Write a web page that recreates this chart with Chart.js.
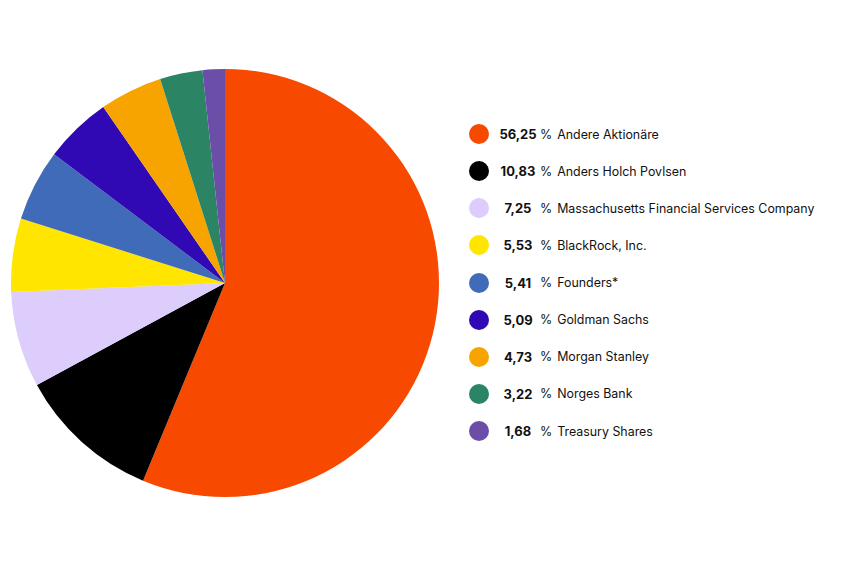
<!DOCTYPE html>
<html>
<head>
<meta charset="utf-8">
<script src="https://cdn.jsdelivr.net/npm/chart.js@4"></script>
<style>
  html, body { margin: 0; padding: 0; background: #fff; }
  body { width: 845px; height: 563px; position: relative; overflow: hidden; font-family: Inter, "Noto Sans", sans-serif; }
  #pieBox { position: absolute; left: 11px; top: 69px; width: 428px; height: 428px; }
  .legend { position: absolute; left: 469px; top: 115.5px; }
  .info-item { display: flex; align-items: center; height: 37.125px; font-size: 12.4px; color: #111; }
  .color-dot { width: 20px; height: 20px; border-radius: 50%; margin-right: 8px; flex: none; }
  .pct { width: 42px; text-align: center; font-weight: 700; font-size: 13px; }
  .sign { margin-left: 1px; margin-right: 5px; }
</style>
</head>
<body>
<div id="pieBox"><canvas id="shareChart"></canvas></div>
<div class="legend" id="legend"></div>
<script>
const labels = ['Andere Aktionäre', 'Anders Holch Povlsen', 'Massachusetts Financial Services Company', 'BlackRock, Inc.', 'Founders*', 'Goldman Sachs', 'Morgan Stanley', 'Norges Bank', 'Treasury Shares'];
const shares = [56.25, 10.83, 7.25, 5.53, 5.41, 5.09, 4.73, 3.22, 1.68];
const colors = ['#f74a00', '#000000', '#dccdfc', '#ffe500', '#3f6bb8', '#3008b4', '#f8a400', '#2b8464', '#6b4ea8'];

const ctx = document.getElementById('shareChart').getContext('2d');
new Chart(ctx, {
  type: 'pie',
  data: {
    labels: labels,
    datasets: [{
      data: shares,
      backgroundColor: colors,
      borderWidth: 0
    }]
  },
  options: {
    responsive: true,
    maintainAspectRatio: false,
    animation: false,
    layout: { padding: 0 },
    plugins: {
      legend: { display: false },
      tooltip: { enabled: false }
    }
  }
});

// legend built from the same arrays
const legendBox = document.getElementById('legend');
labels.forEach((label, i) => {
  const row = document.createElement('div');
  row.className = 'info-item';
  row.innerHTML = `
      <div class="color-dot" style="background-color: ${colors[i]}"></div>
      <span class="pct">${shares[i].toFixed(2).replace('.', ',')}</span>
      <span class="sign">%</span>
      <span>${label}</span>
  `;
  legendBox.appendChild(row);
});
</script>
</body>
</html>
